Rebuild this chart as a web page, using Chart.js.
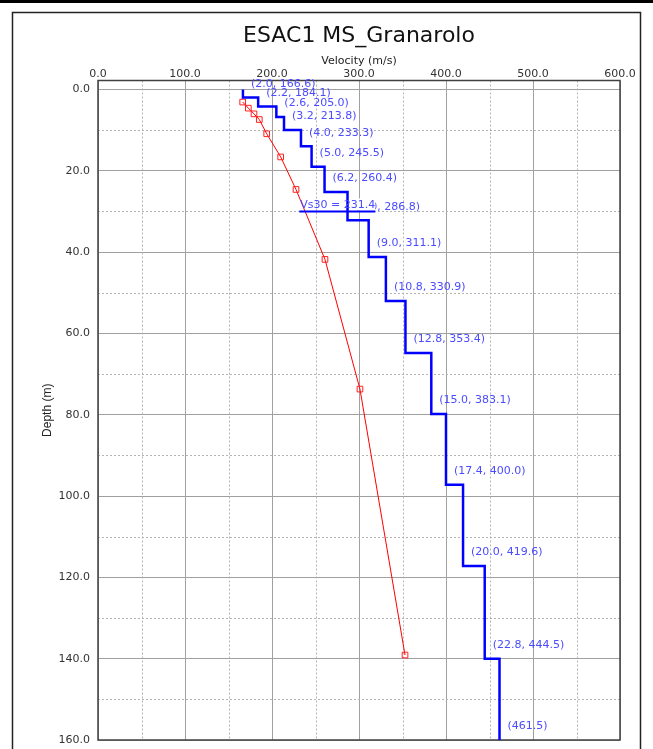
<!DOCTYPE html>
<html>
<head>
<meta charset="utf-8">
<title>ESAC1 MS_Granarolo</title>
<script src="https://cdn.jsdelivr.net/npm/chart.js@4/dist/chart.umd.min.js"></script>
<style>
  html, body { margin: 0; padding: 0; background: #fff; }
  canvas { display: block; }
</style>
</head>
<body>
<canvas id="profil" width="653" height="749"></canvas>
<script>
var titre = "ESAC1 MS_Granarolo";

// couches : epaisseur (m) et Vs (m/s)
var epaisseurs = [2.0, 2.2, 2.6, 3.2, 4.0, 5.0, 6.2, 7.0, 9.0, 10.8, 12.8, 15.0, 17.4, 20.0, 22.8];
var vitesses   = [166.6, 184.1, 205.0, 213.8, 233.3, 245.5, 260.4, 286.8, 311.1, 330.9, 353.4, 383.1, 400.0, 419.6, 444.5];
var vsDemiEspace = 461.5;
var profMax      = 160.0;
var vs30         = 231.4;
var profVs30     = 30.0;

// courbe rouge
var rougeVitesses = [166.3, 172.8, 179.3, 185.4, 193.9, 210.0, 227.6, 260.9, 301.1, 352.9];
var rougeProfs    = [3.1, 4.6, 6.0, 7.4, 10.9, 16.6, 24.6, 41.8, 73.7, 139.1];

var ticksVitesse = [0, 100, 200, 300, 400, 500, 600];
var ticksProf    = [0, 20, 40, 60, 80, 100, 120, 140, 160];
var mineursVitesse = [50, 150, 250, 350, 450, 550];
var mineursProf    = [10, 30, 50, 70, 90, 110, 130, 150];

var police = "DejaVu Sans";

// profondeurs des bases de couches
var bases = [];
var cumul = 0;
epaisseurs.forEach(function(e) {
  cumul = Math.round((cumul + e) * 10) / 10;
  bases.push(cumul);
});

// escalier bleu
var escalier = [{ x: vitesses[0], y: 0 }];
vitesses.forEach(function(v, i) {
  var suivante = i + 1 < vitesses.length ? vitesses[i + 1] : vsDemiEspace;
  escalier.push({ x: v, y: bases[i] });
  escalier.push({ x: suivante, y: bases[i] });
});
escalier.push({ x: vsDemiEspace, y: profMax });

var rouge = rougeVitesses.map(function(v, i) {
  return { x: v, y: rougeProfs[i] };
});

function sansDebord(axe) {
  axe.paddingTop = 0;
  axe.paddingBottom = 0;
  axe.paddingLeft = 0;
  axe.paddingRight = 0;
}

var decor = {
  id: "decor",
  beforeDraw: function(chart) {
    var c = chart.ctx;
    var a = chart.chartArea;
    c.save();
    c.fillStyle = "#fff";
    c.fillRect(0, 0, chart.width, chart.height);
    c.fillStyle = "#000";
    c.fillRect(0, 0, chart.width, 3);
    c.strokeStyle = "#222";
    c.lineWidth = 1.5;
    c.strokeRect(12.5, 12.5, 628, 760);
    // titre centre sur la zone de trace
    c.fillStyle = "#111";
    c.font = "22px " + police;
    c.textAlign = "center";
    c.textBaseline = "middle";
    c.fillText(titre, (a.left + a.right) / 2, 36);
    c.restore();
  },
  beforeDatasetsDraw: function(chart) {
    var c  = chart.ctx;
    var a  = chart.chartArea;
    var sx = chart.scales.x;
    var sy = chart.scales.y;
    c.save();
    c.strokeStyle = "#b4b4b4";
    c.lineWidth = 1;
    c.setLineDash([2, 2]);
    mineursVitesse.forEach(function(v) {
      var px = Math.round(sx.getPixelForValue(v)) + 0.5;
      c.beginPath(); c.moveTo(px, a.top); c.lineTo(px, a.bottom); c.stroke();
    });
    mineursProf.forEach(function(d) {
      var py = Math.round(sy.getPixelForValue(d)) + 0.5;
      c.beginPath(); c.moveTo(a.left, py); c.lineTo(a.right, py); c.stroke();
    });
    c.setLineDash([]);
    c.strokeStyle = "#404040";
    c.lineWidth = 1.5;
    c.strokeRect(a.left, a.top, a.right - a.left, a.bottom - a.top);
    c.restore();
  },
  afterDatasetsDraw: function(chart) {
    var c  = chart.ctx;
    var sx = chart.scales.x;
    var sy = chart.scales.y;
    c.save();
    c.font = "11px " + police;
    c.fillStyle = "#4b4bff";
    c.textBaseline = "middle";
    c.textAlign = "left";
    vitesses.forEach(function(v, i) {
      var txt = "(" + epaisseurs[i].toFixed(1) + ", " + v.toFixed(1) + ")";
      c.fillText(txt, sx.getPixelForValue(v) + 8, sy.getPixelForValue(bases[i]) - 13.5);
    });
    c.fillText("(" + vsDemiEspace.toFixed(1) + ")", sx.getPixelForValue(vsDemiEspace) + 8, sy.getPixelForValue(profMax) - 13.5);

    // Vs30, souligne, sur fond blanc par-dessus l'etiquette de la couche 8
    var txt30 = "Vs30 = " + vs30.toFixed(1);
    var x30 = sx.getPixelForValue(vs30);
    var y30 = sy.getPixelForValue(profVs30);
    var w30 = c.measureText(txt30).width;
    var debutMasque = sx.getPixelForValue(vitesses[7]) + 6;
    c.fillStyle = "#fff";
    c.fillRect(debutMasque, y30 - 13, x30 + 1 + w30 - debutMasque, 12);
    c.fillStyle = "#4b4bff";
    c.fillText(txt30, x30 + 1, y30 - 6);
    c.strokeStyle = "#0000ff";
    c.lineWidth = 2;
    c.beginPath(); c.moveTo(x30, y30); c.lineTo(x30 + w30 + 1, y30); c.stroke();
    c.restore();
  }
};

new Chart(document.getElementById("profil"), {
  type: "scatter",
  data: {
    datasets: [{
      label: "Vs",
      data: escalier,
      showLine: true,
      borderColor: "#0000ff",
      borderWidth: 2.5,
      pointRadius: 0,
      fill: false
    }, {
      label: "Rouge",
      data: rouge,
      showLine: true,
      borderColor: "#ff0000",
      borderWidth: 1,
      pointStyle: "rect",
      pointRadius: 4,
      pointBorderColor: "#ff2020",
      pointBackgroundColor: "rgba(0,0,0,0)",
      pointBorderWidth: 1,
      fill: false
    }]
  },
  options: {
    responsive: false,
    animation: false,
    layout: { padding: { top: 48, left: 14, right: 33, bottom: 9 } },
    plugins: {
      legend: { display: false },
      tooltip: { enabled: false },
      title: { display: false }
    },
    scales: {
      x: {
        type: "linear",
        position: "top",
        min: 0,
        max: 600,
        afterBuildTicks: function(axe) {
          axe.ticks = ticksVitesse.map(function(v) { return { value: v }; });
        },
        afterFit: function(axe) { axe.height = 32.5; sansDebord(axe); },
        grid: { color: "#a0a0a0", lineWidth: 1, drawTicks: false },
        border: { display: false },
        ticks: {
          color: "#333",
          padding: 0,
          maxRotation: 0,
          font: { family: police, size: 11 },
          callback: function(v) { return Number(v).toFixed(1); }
        },
        title: {
          display: true,
          text: "Velocity (m/s)",
          color: "#222",
          font: { family: police, size: 11, lineHeight: 1.2 },
          padding: { top: 7, bottom: 0 }
        }
      },
      y: {
        type: "linear",
        reverse: true,
        min: -2.2,
        max: profMax,
        afterBuildTicks: function(axe) {
          axe.ticks = ticksProf.map(function(v) { return { value: v }; });
        },
        afterFit: function(axe) { axe.width = 84; sansDebord(axe); },
        grid: { color: "#a0a0a0", lineWidth: 1, drawTicks: false },
        border: { display: false },
        ticks: {
          color: "#333",
          padding: 8,
          font: { family: police, size: 11 },
          callback: function(v) { return Number(v).toFixed(1); }
        },
        title: {
          display: true,
          text: "Depth (m)",
          color: "#222",
          font: { family: "Liberation Sans Narrow, Liberation Sans", size: 12, lineHeight: 1.2 },
          padding: { top: 26, bottom: 0 }
        }
      }
    }
  },
  plugins: [decor]
});
</script>
</body>
</html>
